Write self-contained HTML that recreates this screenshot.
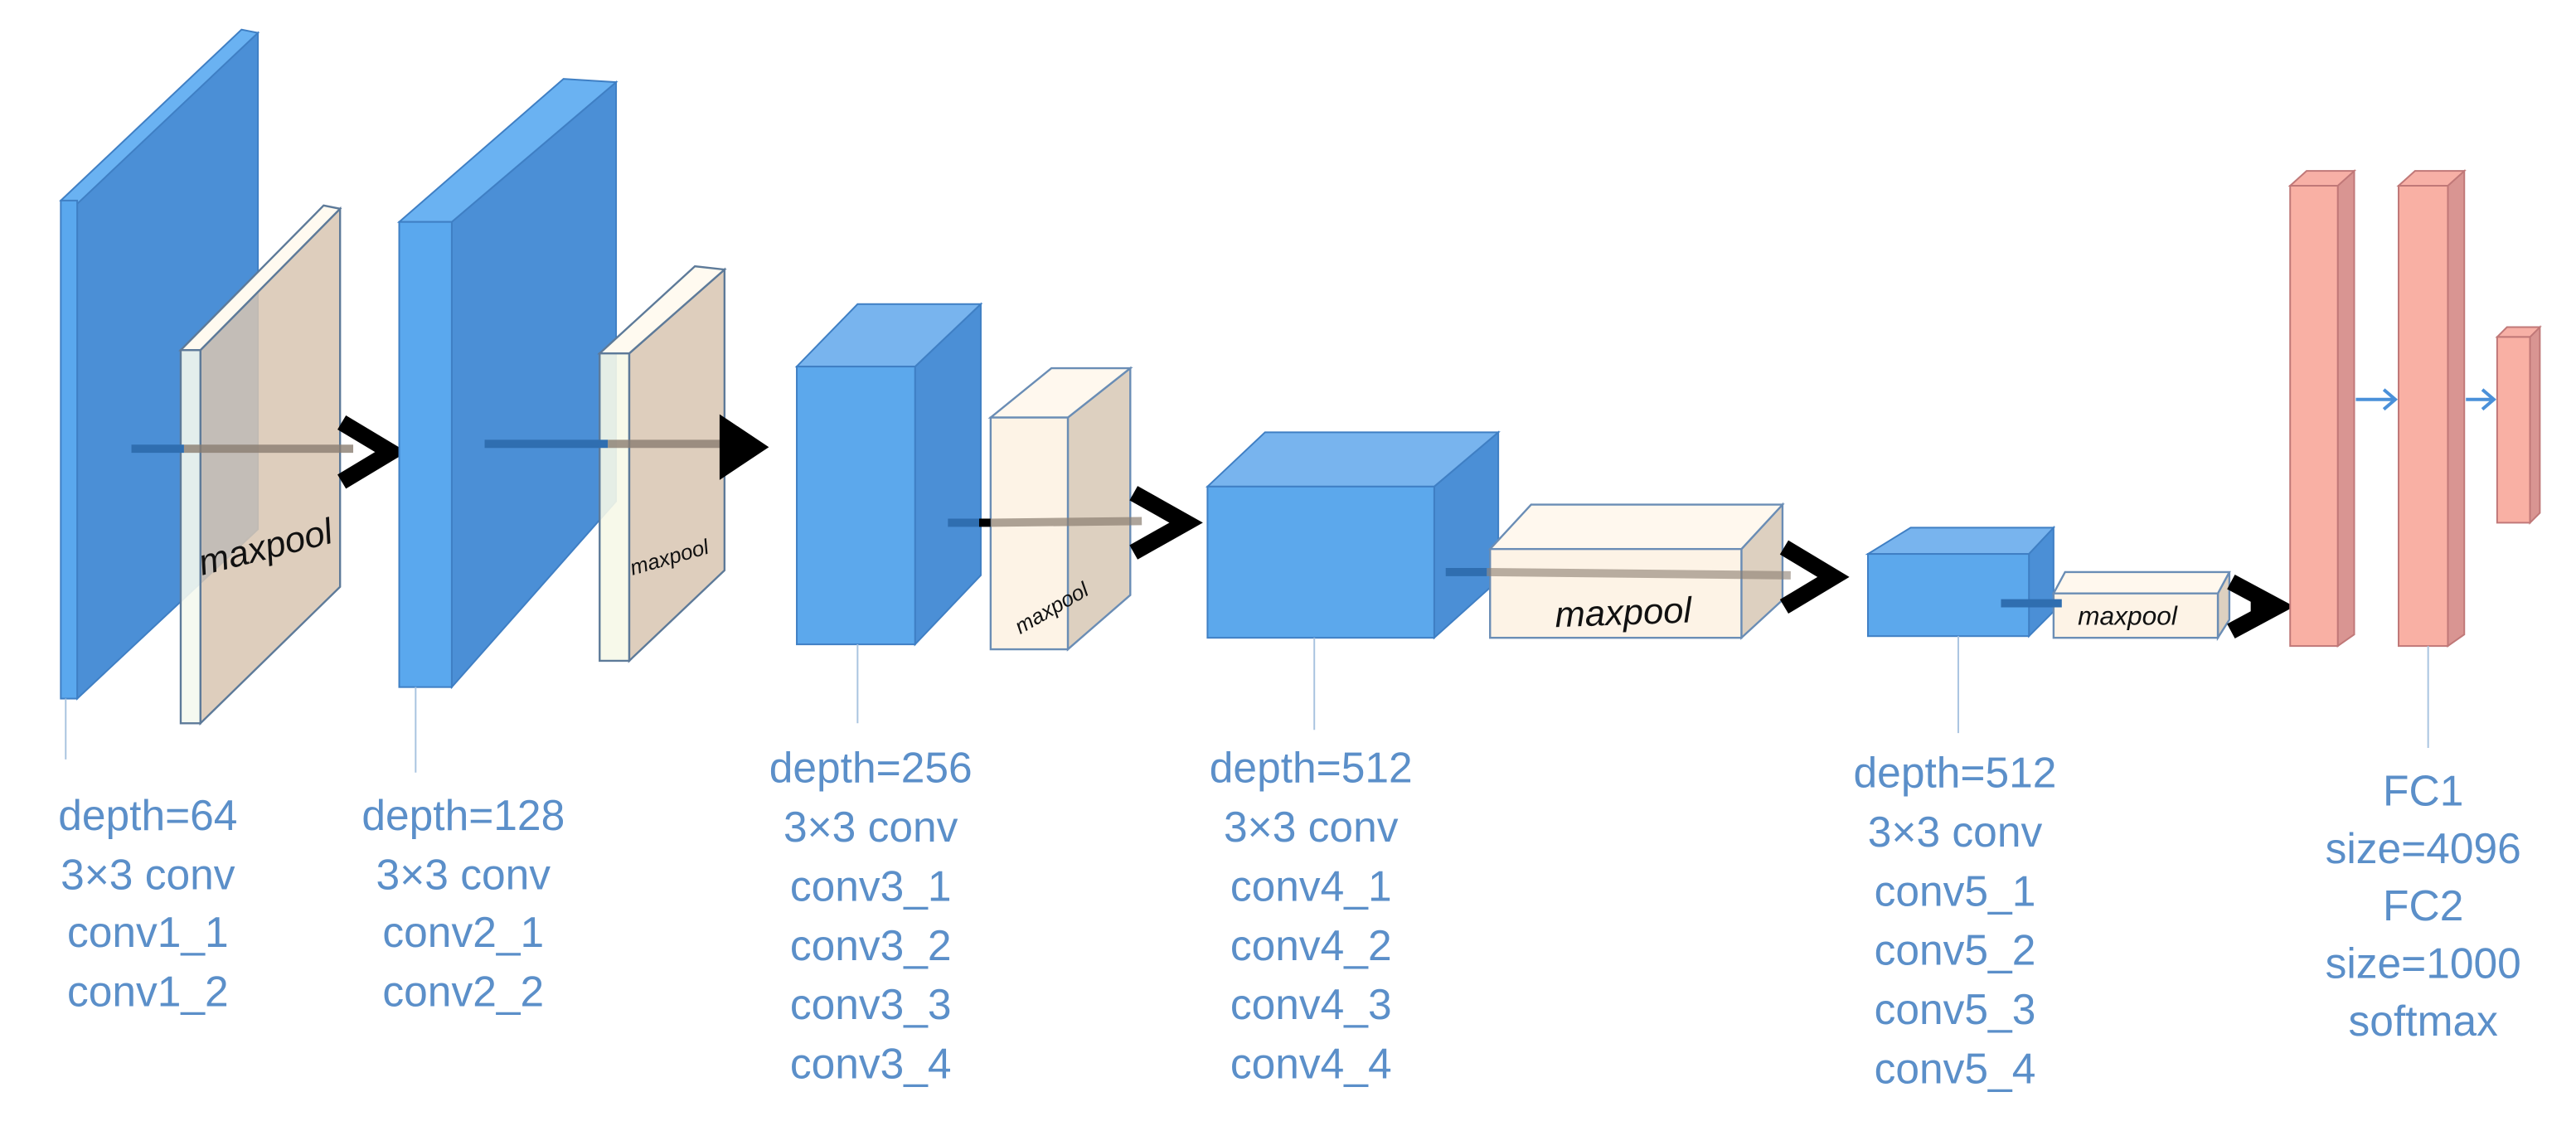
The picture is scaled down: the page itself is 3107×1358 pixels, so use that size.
<!DOCTYPE html>
<html><head><meta charset="utf-8"><style>
html,body{margin:0;padding:0;background:#fff;}
svg{display:block;}
text{font-family:"Liberation Sans",sans-serif;}
.lbl{fill:#5b8fc9;font-size:26px;text-anchor:middle;}
.mp{fill:#111;font-style:italic;}
.ld{stroke:#a9c4e0;stroke-width:1;}
</style></head><body>
<svg width="3107" height="1358" viewBox="0 0 1568 685" preserveAspectRatio="none" xmlns="http://www.w3.org/2000/svg">
<rect width="1568" height="685" fill="#fff"/>
<g stroke="#3f7fc4" stroke-width="1">
<polygon points="47,122 157,20 157,322 47,425" fill="#4b8fd6"/>
<polygon points="37,122 147,18 157,20 47,124" fill="#6ab2f2"/>
<rect x="37" y="122" width="10" height="303" fill="#5aa8ee"/>
</g>
<g stroke="#5d7a99" stroke-width="1.2">
<polygon points="122,213 207,127 207,357 122,440" fill="#d8c6b2" fill-opacity="0.85"/>
<polygon points="110,213 197,125 207,127 122,213" fill="#fffaf0"/>
<rect x="110" y="213" width="12" height="227" fill="#f4f8ee" fill-opacity="0.9"/>
</g>
<line x1="80" y1="273" x2="112" y2="273" stroke="#2f6eb0" stroke-width="5"/>
<line x1="112" y1="273" x2="215" y2="273" stroke="#8a7d70" stroke-width="5" stroke-opacity="0.8"/>
<polyline points="208,257 238,275 208,293" fill="none" stroke="#000" stroke-width="10"/>
<text class="mp" font-size="22" transform="translate(123,350) rotate(-14)">maxpool</text>
<g stroke="#3f7fc4" stroke-width="1">
<polygon points="275,135 375,50 375,305 275,418" fill="#4b8fd6"/>
<polygon points="243,135 343,48 375,50 275,135" fill="#6ab2f2"/>
<rect x="243" y="135" width="32" height="283" fill="#5aa8ee"/>
</g>
<g stroke="#5d7a99" stroke-width="1.2">
<polygon points="383,215 441,164 441,347 383,402" fill="#d8c6b2" fill-opacity="0.85"/>
<polygon points="365,215 423,162 441,164 383,215" fill="#fffaf0"/>
<rect x="365" y="215" width="18" height="187" fill="#f6f8e8" fill-opacity="0.9"/>
</g>
<line x1="295" y1="270" x2="370" y2="270" stroke="#2f6eb0" stroke-width="5"/>
<line x1="370" y1="270" x2="445" y2="270" stroke="#8a7d70" stroke-width="5" stroke-opacity="0.8"/>
<polygon points="438,252 468,272 438,292" fill="#000"/>
<text class="mp" font-size="13" transform="translate(385,350) rotate(-16)">maxpool</text>
<g stroke="#3f7fc4" stroke-width="1">
<polygon points="557,223 597,185 597,350 557,392" fill="#4b8fd6"/>
<polygon points="485,223 522,185 597,185 557,223" fill="#78b4ee"/>
<rect x="485" y="223" width="72" height="169" fill="#5ca8ec"/>
</g>
<g stroke="#6a8db5" stroke-width="1.2">
<polygon points="650,254 688,224 688,362 650,395" fill="#ddd0c0"/>
<polygon points="603,254 640,224 688,224 650,254" fill="#fff8ee"/>
<rect x="603" y="254" width="47" height="141" fill="#fdf3e6"/>
</g>
<line x1="577" y1="318" x2="596" y2="318" stroke="#2f6eb0" stroke-width="5"/>
<line x1="596" y1="318" x2="603" y2="318" stroke="#000" stroke-width="5"/>
<line x1="603" y1="318" x2="695" y2="317" stroke="#8a7d70" stroke-width="5" stroke-opacity="0.7"/>
<polyline points="690,300 722,318 690,336" fill="none" stroke="#000" stroke-width="10"/>
<text class="mp" font-size="13" transform="translate(621,386) rotate(-30)">maxpool</text>
<g stroke="#3f7fc4" stroke-width="1">
<polygon points="873,296 912,263 912,353 873,388" fill="#4b8fd6"/>
<polygon points="735,296 770,263 912,263 873,296" fill="#78b4ee"/>
<rect x="735" y="296" width="138" height="92" fill="#5ca8ec"/>
</g>
<g stroke="#6a8db5" stroke-width="1.2">
<polygon points="1060,334 1085,307 1085,365 1060,388" fill="#ddd0c0"/>
<polygon points="907,334 932,307 1085,307 1060,334" fill="#fff8ee"/>
<rect x="907" y="334" width="153" height="54" fill="#fdf3e6"/>
</g>
<line x1="880" y1="348" x2="905" y2="348" stroke="#2f6eb0" stroke-width="5"/>
<line x1="905" y1="348" x2="1090" y2="350" stroke="#8a7d70" stroke-width="5" stroke-opacity="0.6"/>
<polyline points="1086,333 1116,351 1086,369" fill="none" stroke="#000" stroke-width="10"/>
<text class="mp" font-size="22" x="988" y="380" text-anchor="middle" transform="rotate(-2 988 372)">maxpool</text>
<g stroke="#3f7fc4" stroke-width="1">
<polygon points="1235,337 1250,321 1250,372 1235,387" fill="#4b8fd6"/>
<polygon points="1137,337 1163,321 1250,321 1235,337" fill="#78b4ee"/>
<rect x="1137" y="337" width="98" height="50" fill="#5ca8ec"/>
</g>
<g stroke="#6a8db5" stroke-width="1.2">
<polygon points="1350,361 1357,348 1357,377 1350,388" fill="#ddd0c0"/>
<polygon points="1250,361 1257,348 1357,348 1350,361" fill="#fff8ee"/>
<rect x="1250" y="361" width="100" height="27" fill="#fdf3e6"/>
</g>
<line x1="1218" y1="367" x2="1255" y2="367" stroke="#2f6eb0" stroke-width="5"/>
<polyline points="1358,354 1386,369 1358,384" fill="none" stroke="#000" stroke-width="10"/>
<polygon points="1370,356 1395,369 1370,382" fill="#000"/>
<text class="mp" font-size="16" x="1295" y="380" text-anchor="middle">maxpool</text>
<g stroke="#c07878" stroke-width="1">
<polygon points="1423,113 1433,104 1433,386 1423,393" fill="#d99592"/>
<polygon points="1394,113 1404,104 1433,104 1423,113" fill="#f7b0a6"/>
<rect x="1394" y="113" width="29" height="280" fill="#f9b0a4"/>
<polygon points="1490,113 1500,104 1500,386 1490,393" fill="#d99592"/>
<polygon points="1460,113 1470,104 1500,104 1490,113" fill="#f7b0a6"/>
<rect x="1460" y="113" width="30" height="280" fill="#f9b0a4"/>
<polygon points="1540,205 1546,199 1546,312 1540,318" fill="#d99592"/>
<polygon points="1520,205 1526,199 1546,199 1540,205" fill="#f7b0a6"/>
<rect x="1520" y="205" width="20" height="113" fill="#f9b0a4"/>
</g>
<g stroke="#4a90d9" stroke-width="2" fill="none">
<line x1="1434" y1="243" x2="1458" y2="243"/><polyline points="1451,237 1458,243 1451,249"/>
<line x1="1501" y1="243" x2="1518" y2="243"/><polyline points="1511,237 1518,243 1511,249"/>
</g>
<line class="ld" x1="40" y1="425" x2="40" y2="462"/>
<line class="ld" x1="253" y1="418" x2="253" y2="470"/>
<line class="ld" x1="522" y1="392" x2="522" y2="440"/>
<line class="ld" x1="800" y1="388" x2="800" y2="444"/>
<line class="ld" x1="1192" y1="387" x2="1192" y2="446"/>
<line class="ld" x1="1478" y1="393" x2="1478" y2="455"/>
<text class="lbl" x="90" y="505">depth=64</text>
<text class="lbl" x="90" y="541">3×3 conv</text>
<text class="lbl" x="90" y="576">conv1_1</text>
<text class="lbl" x="90" y="612">conv1_2</text>
<text class="lbl" x="282" y="505">depth=128</text>
<text class="lbl" x="282" y="541">3×3 conv</text>
<text class="lbl" x="282" y="576">conv2_1</text>
<text class="lbl" x="282" y="612">conv2_2</text>
<text class="lbl" x="530" y="476">depth=256</text>
<text class="lbl" x="530" y="512">3×3 conv</text>
<text class="lbl" x="530" y="548">conv3_1</text>
<text class="lbl" x="530" y="584">conv3_2</text>
<text class="lbl" x="530" y="620">conv3_3</text>
<text class="lbl" x="530" y="656">conv3_4</text>
<text class="lbl" x="798" y="476">depth=512</text>
<text class="lbl" x="798" y="512">3×3 conv</text>
<text class="lbl" x="798" y="548">conv4_1</text>
<text class="lbl" x="798" y="584">conv4_2</text>
<text class="lbl" x="798" y="620">conv4_3</text>
<text class="lbl" x="798" y="656">conv4_4</text>
<text class="lbl" x="1190" y="479">depth=512</text>
<text class="lbl" x="1190" y="515">3×3 conv</text>
<text class="lbl" x="1190" y="551">conv5_1</text>
<text class="lbl" x="1190" y="587">conv5_2</text>
<text class="lbl" x="1190" y="623">conv5_3</text>
<text class="lbl" x="1190" y="659">conv5_4</text>
<text class="lbl" x="1475" y="490">FC1</text>
<text class="lbl" x="1475" y="525">size=4096</text>
<text class="lbl" x="1475" y="560">FC2</text>
<text class="lbl" x="1475" y="595">size=1000</text>
<text class="lbl" x="1475" y="630">softmax</text>
</svg>
</body></html>
